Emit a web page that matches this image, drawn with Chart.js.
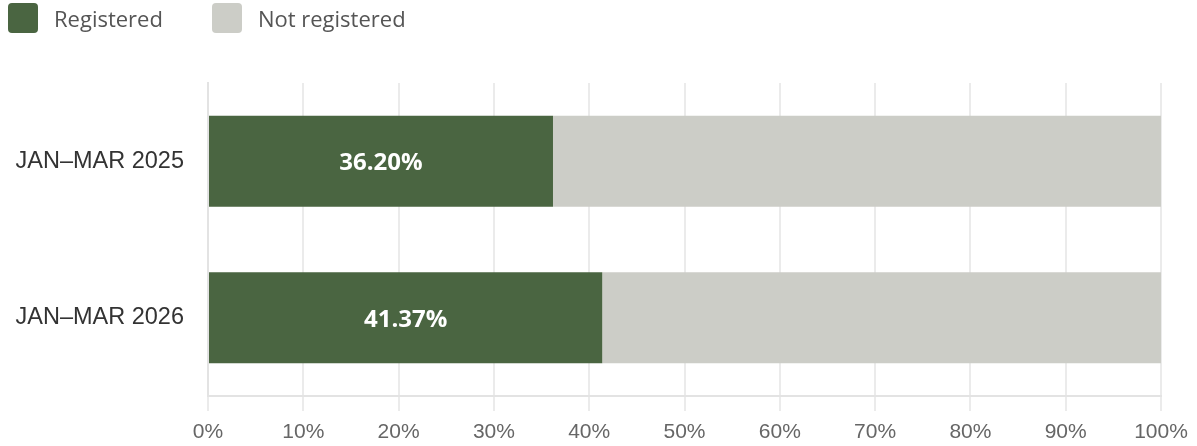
<!DOCTYPE html>
<html>
<head>
<meta charset="utf-8">
<script src="https://cdn.jsdelivr.net/npm/chart.js@4"></script>
<style>
  html, body { margin: 0; padding: 0; background: #fff; }
  #wrap { position: relative; width: 1197px; height: 446px; }
  #legend {
    position: absolute; left: 8px; top: 3px;
    display: flex; align-items: center;
    font-family: "Open Sans", sans-serif; font-size: 22px; color: #555;
  }
  .item { display: flex; align-items: center; margin-right: 49px; }
  .box { width: 30px; height: 30px; border-radius: 4px; margin-right: 16px; }
</style>
</head>
<body>
<div id="wrap">
  <div id="legend"></div>
  <canvas id="chart" width="1197" height="446"></canvas>
</div>
<script>
const categories = ['JAN\u2013MAR 2025', 'JAN\u2013MAR 2026'];
const registered = [36.20, 41.37];
const notRegistered = [63.80, 58.63];
const seriesNames = ['Registered', 'Not registered'];
const seriesColors = ['#4a6541', '#cccdc7'];
const xTicks = [0, 10, 20, 30, 40, 50, 60, 70, 80, 90, 100];

// legend above the chart
const legend = document.getElementById('legend');
seriesNames.forEach((name, i) => {
  const item = document.createElement('div');
  item.className = 'item';
  item.innerHTML = '<div class="box" style="background:' + seriesColors[i] + '"></div><span>' + name + '</span>';
  legend.appendChild(item);
});

// white percentage inside the registered bars
const barLabels = {
  id: 'barLabels',
  afterDatasetsDraw(chart) {
    const ctx = chart.ctx;
    const meta = chart.getDatasetMeta(0);
    ctx.save();
    ctx.font = 'bold 24px "Open Sans", sans-serif';
    ctx.fillStyle = '#ffffff';
    ctx.textAlign = 'center';
    ctx.textBaseline = 'middle';
    meta.data.forEach((bar, i) => {
      const cx = (bar.base + bar.x) / 2;
      ctx.fillText(registered[i].toFixed(2) + '%', cx, bar.y + 2);
    });
    ctx.restore();
  }
};

new Chart(document.getElementById('chart'), {
  type: 'bar',
  data: {
    labels: categories,
    datasets: [
      { label: seriesNames[0], data: registered, backgroundColor: seriesColors[0] },
      { label: seriesNames[1], data: notRegistered, backgroundColor: seriesColors[1] }
    ]
  },
  options: {
    indexAxis: 'y',
    responsive: false,
    animation: false,
    layout: { padding: { top: 83, right: 36, bottom: 1, left: 8 } },
    datasets: { bar: { categoryPercentage: 1, barPercentage: 0.58 } },
    plugins: { legend: { display: false }, tooltip: { enabled: false } },
    scales: {
      x: {
        stacked: true,
        min: 0,
        max: 100,
        afterBuildTicks(scale) { scale.ticks = xTicks.map(v => ({ value: v })); },
        afterFit(scale) { scale.height = 49; },
        grid: { color: '#ebebeb', lineWidth: 2, tickLength: 15 },
        border: { color: '#e3e3e3', width: 2 },
        ticks: {
          padding: 9,
          color: '#666',
          font: { family: '"Liberation Sans", Arial, sans-serif', size: 21 },
          callback: v => v + '%'
        }
      },
      y: {
        stacked: true,
        afterFit(scale) { scale.width = 200; },
        grid: { display: false },
        border: { color: '#e3e3e3', width: 2 },
        ticks: {
          padding: 16,
          color: '#333',
          font: { family: '"Liberation Sans", Arial, sans-serif', size: 23.5 }
        }
      }
    }
  },
  plugins: [barLabels]
});
</script>
</body>
</html>
